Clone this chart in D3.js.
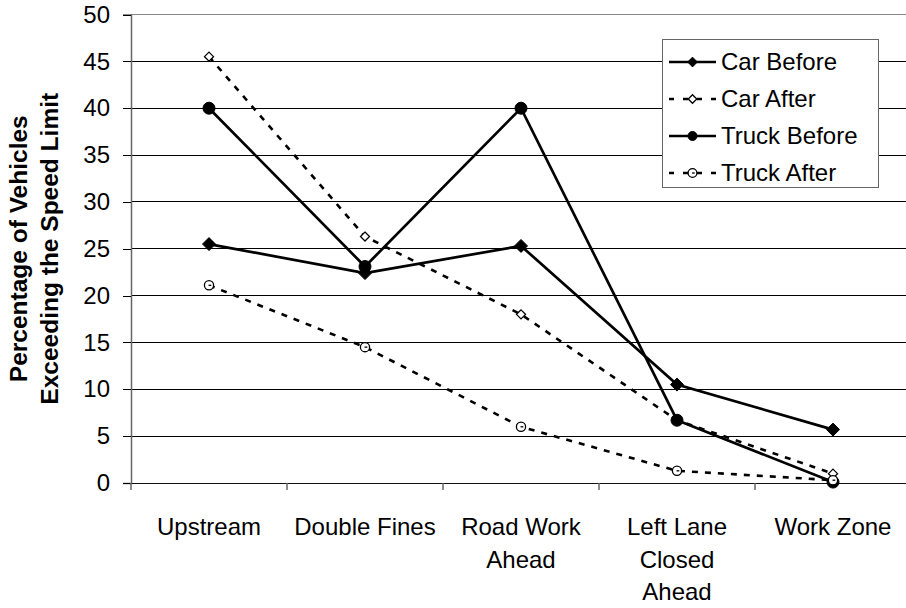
<!DOCTYPE html>
<html><head><meta charset="utf-8">
<script src="https://cdn.jsdelivr.net/npm/d3@7"></script>
<style>
html,body{margin:0;padding:0;background:#fff;overflow:hidden}
svg{display:block;font-family:"Liberation Sans",Arial,sans-serif}
</style></head>
<body>
<svg id="chart" width="906" height="608"></svg>
<script>
const categories = [["Upstream"],["Double Fines"],["Road Work","Ahead"],["Left Lane","Closed","Ahead"],["Work Zone"]];
const carBefore   = [25.5, 22.4, 25.3, 10.5, 5.7];
const carAfter    = [45.5, 26.3, 18.0, 6.7, 1.0];
const truckBefore = [40.0, 23.1, 40.0, 6.7, 0.1];
const truckAfter  = [21.1, 14.5, 6.0, 1.3, 0.3];
const seriesNames = ["Car Before","Car After","Truck Before","Truck After"];
const yTicks = [0,5,10,15,20,25,30,35,40,45,50];

const series = [
  {name: seriesNames[0], values: carBefore, dashed: false, marker: "diamond", filled: true},
  {name: seriesNames[1], values: carAfter, dashed: true, marker: "diamond", filled: false},
  {name: seriesNames[2], values: truckBefore, dashed: false, marker: "circle", filled: true},
  {name: seriesNames[3], values: truckAfter, dashed: true, marker: "circle", filled: false}
];

const svg = d3.select("#chart");
const L = 131, R = 911, T = 14.5, B = 483;
const x = d3.scaleBand().domain(d3.range(categories.length)).range([L, R]);
const y = d3.scaleLinear().domain([0, 50]).range([B, T]);
const cx = i => x(i) + x.bandwidth()/2;

// gridlines
svg.append("g").attr("shape-rendering", "crispEdges").selectAll("line").data(yTicks.filter(d => d > 0)).join("line")
  .attr("x1", L).attr("x2", 906).attr("y1", d => y(d)).attr("y2", d => y(d))
  .attr("stroke", d => d === 50 ? "#888" : "#000").attr("stroke-width", 1);

// y axis
const yAxis = svg.append("g").attr("transform", `translate(${L},0)`)
  .call(d3.axisLeft(y).tickValues(yTicks).tickSize(8).tickPadding(13));
yAxis.select(".domain").attr("stroke", "#666").attr("stroke-width", 1.5);
yAxis.selectAll(".tick line").attr("stroke", "#000").attr("shape-rendering", "crispEdges");
yAxis.selectAll("text").attr("font-size", 24).attr("fill", "#000")
  .attr("font-family", "Liberation Sans, Arial, sans-serif");

// x axis
const xAxis = svg.append("g").attr("transform", `translate(0,${B})`)
  .call(d3.axisBottom(x).tickSize(0).tickFormat(""));
xAxis.select(".domain").attr("stroke", "#111").attr("stroke-width", 1.2);
// category separator ticks
svg.append("g").selectAll("line").data(d3.range(categories.length)).join("line")
  .attr("x1", i => x(i)).attr("x2", i => x(i)).attr("y1", B).attr("y2", B + 7)
  .attr("stroke", "#666").attr("stroke-width", 1.5);

// category labels
const catG = svg.append("g");
categories.forEach((lines, i) => {
  const t = catG.append("text").attr("text-anchor", "middle").attr("font-size", 24).attr("fill", "#000");
  lines.forEach((ln, j) => t.append("tspan").attr("x", cx(i)).attr("y", 535 + j * 32.5).text(ln));
});

// y title
const yt = svg.append("text").attr("transform", `translate(0,${(T + B) / 2}) rotate(-90)`)
  .attr("text-anchor", "middle").attr("font-weight", "bold").attr("font-size", 24.5).attr("fill", "#000");
yt.append("tspan").attr("x", 0).attr("y", 27).text("Percentage of Vehicles");
yt.append("tspan").attr("x", 0).attr("y", 58).text("Exceeding the Speed Limit");

// marker drawing
function drawMarker(g, s, px, py, scale) {
  scale = scale || 1;
  if (s.marker === "diamond") {
    const r = (s.filled ? 6.5 : 4.5) * scale;
    g.append("path").attr("d", `M${px},${py - r}L${px + r},${py}L${px},${py + r}L${px - r},${py}Z`)
      .attr("fill", s.filled ? "#000" : "#fff").attr("stroke", "#000").attr("stroke-width", s.filled ? 1 : 1.3);
  } else {
    const r = (s.filled ? 6 : 4.6) * scale;
    g.append("circle").attr("cx", px).attr("cy", py).attr("r", r)
      .attr("fill", s.filled ? "#000" : "#fff").attr("stroke", "#000").attr("stroke-width", s.filled ? 1 : 1.3);
    if (!s.filled) {
      g.append("line").attr("x1", px - r * 0.1).attr("x2", px + r * 0.5).attr("y1", py).attr("y2", py)
        .attr("stroke", "#000").attr("stroke-width", 1.3);
    }
  }
}

const line = d3.line().x((d, i) => cx(i)).y(d => y(d));
const plotG = svg.append("g");
series.forEach(s => {
  plotG.append("path").datum(s.values).attr("d", line).attr("fill", "none")
    .attr("stroke", "#000").attr("stroke-width", s.dashed ? 2.6 : 2.7)
    .attr("stroke-dasharray", s.dashed ? "6,7" : null);
});
series.forEach(s => {
  s.values.forEach((v, i) => drawMarker(plotG, s, cx(i), y(v)));
});

// legend
const lg = svg.append("g");
lg.append("rect").attr("x", 662.5).attr("y", 39.5).attr("width", 216).attr("height", 148)
  .attr("fill", "#fff").attr("stroke", "#666").attr("stroke-width", 1);
series.forEach((s, i) => {
  const yy = 62 + i * 37;
  lg.append("line").attr("x1", 669).attr("x2", 716).attr("y1", yy).attr("y2", yy)
    .attr("stroke", "#000").attr("stroke-width", s.dashed ? 2.6 : 2.7)
    .attr("stroke-dasharray", s.dashed ? "5,9" : null);
  drawMarker(lg, s, 692.5, yy, s.filled ? 0.75 : 0.95);
  lg.append("text").attr("x", 721).attr("y", yy).attr("dy", "0.35em")
    .attr("font-size", 24).attr("fill", "#000").text(s.name);
});
</script>
</body></html>
